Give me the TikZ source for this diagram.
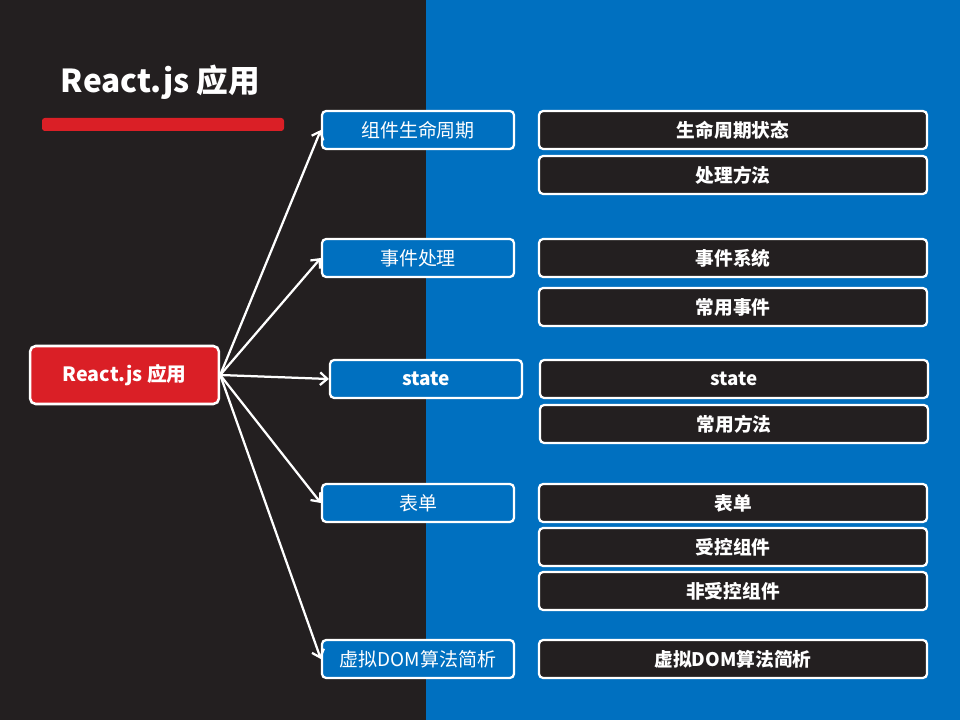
\documentclass[tikz,border=0pt]{standalone}
\usepackage{fontspec}
\setmainfont{Noto Sans CJK SC}
\usepackage{tikz}
\usetikzlibrary{arrows.meta}

\definecolor{panelDark}{HTML}{231F20}
\definecolor{panelBlue}{HTML}{0070C0}
\definecolor{appRed}{HTML}{DA1F26}

\begin{document}
\begin{tikzpicture}[x=0.025cm, y=-0.025cm,
    rootbox/.style={draw=white, line width=1.8pt, rounded corners=4pt, fill=appRed,
        text=white, font=\fontsize{14}{16}\selectfont\bfseries,
        minimum width=4.72cm, minimum height=1.45cm},
    topicbox/.style={draw=white, line width=1.6pt, rounded corners=3pt, fill=panelBlue,
        text=white, font=\fontsize{13.5}{16}\selectfont,
        minimum width=4.8cm, minimum height=0.95cm, inner sep=0pt},
    itembox/.style={draw=white, line width=1.6pt, rounded corners=3pt, fill=panelDark,
        text=white, font=\fontsize{13.3}{16}\selectfont\bfseries,
        minimum width=9.7cm, minimum height=0.95cm, inner sep=0pt},
    branch/.style={draw=white, line width=1.6pt, -{Straight Barb[length=5pt,width=9pt]}}]
        \useasboundingbox (0,0) rectangle (960,720);                          %
        \fill [panelDark] (0,0) rectangle (426,720);                           % left panel
        \fill [panelBlue] (426,0) rectangle (960,720);                         % right panel
        \node [text=white, font=\fontsize{22.5}{26}\selectfont\bfseries, anchor=west]
              (title) at (56,82) {React.js 应用};                              %
        \fill [appRed, rounded corners=2pt] (42,118) rectangle (284,131);      % bar

        \node [rootbox]  (root)   at (124.5,375) {React.js 应用};             %

        \node [topicbox] (life)   at (418,130) {组件生命周期};                 %
        \node [topicbox] (event)  at (418,258) {事件处理};                     %
        \node [topicbox, font=\fontsize{13.5}{16}\selectfont\bfseries]
                         (state)  at (426,379) {state};                         %
        \node [topicbox] (form)   at (418,503) {表单};                         %
        \node [topicbox] (vdom)   at (418,659) {虚拟DOM算法简析};              %

        \node [itembox]  (lifeA)  at (733,130) {生命周期状态};                 %
        \node [itembox]  (lifeB)  at (733,175) {处理方法};                     %
        \node [itembox]  (eventA) at (733,258) {事件系统};                     %
        \node [itembox]  (eventB) at (733,307) {常用事件};                     %
        \node [itembox]  (stateA) at (734,379) {state};                        %
        \node [itembox]  (stateB) at (734,424) {常用方法};                     %
        \node [itembox]  (formA)  at (733,503) {表单};                         %
        \node [itembox]  (formB)  at (733,547) {受控组件};                     %
        \node [itembox]  (formC)  at (733,591) {非受控组件};                   %
        \node [itembox]  (vdomA)  at (733,659) {虚拟DOM算法简析};              %

        \draw [branch] (root.east) -- (life.west);                             %
        \draw [branch] (root.east) -- (event.west);                            %
        \draw [branch] (root.east) -- (state.west);                            %
        \draw [branch] (root.east) -- (form.west);                             %
        \draw [branch] (root.east) -- (vdom.west);                              %
      \end{tikzpicture}
\end{document}
